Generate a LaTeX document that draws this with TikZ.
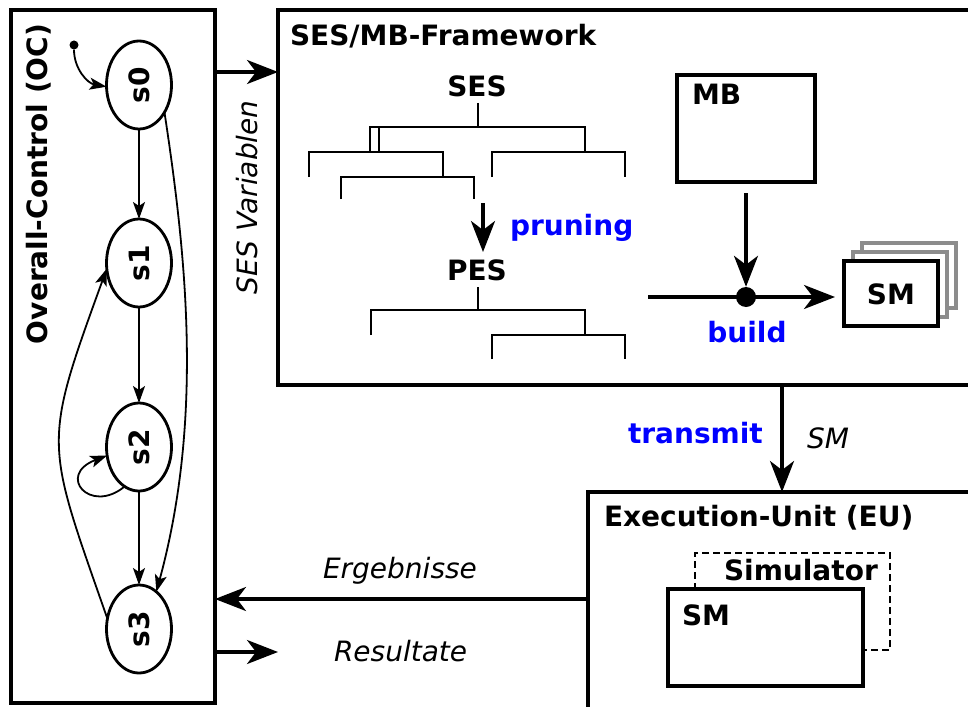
\documentclass[tikz,border=0pt]{standalone}
\usepackage{fontspec}
\setmainfont{DejaVu Sans}
\usepackage{graphicx}
\usetikzlibrary{arrows.meta,shapes.geometric,calc}
\begin{document}
\begin{tikzpicture}[x=1pt,y=-1pt,
  lbl/.style={font=\fontsize{28pt}{33pt}\selectfont\bfseries, inner sep=0pt, outer sep=0pt},
  ital/.style={font=\fontsize{28pt}{33pt}\selectfont\itshape, inner sep=0pt, outer sep=0pt},
  bluelbl/.style={lbl, text=blue},
  box/.style={draw, line width=3.3pt, outer sep=0pt, inner sep=0pt, fill=white},
  graybox/.style={box, draw=black!45},
  dashbox/.style={draw, line width=2.8pt, dash pattern=on 7pt off 4pt, outer sep=0pt, inner sep=0pt},
  state/.style={draw, ellipse, line width=2.8pt, minimum width=65pt, minimum height=88pt, inner sep=0pt, outer sep=0pt, font=\fontsize{28pt}{33pt}\selectfont\bfseries},
  tr/.style={line width=1.8pt, -{Stealth[length=17pt,width=12pt,inset=4pt]}},
  big/.style={line width=3.3pt, -{Stealth[length=31pt,width=24pt,inset=9pt]}},
  thick3/.style={line width=3.3pt},
  tree/.style={line width=2.3pt},
]
\clip (0,0) rectangle (968,706);
\fill[white] (0,0) rectangle (968,706);

% main boxes
\node[box, anchor=north west, minimum width=204pt, minimum height=693pt] (oc) at (11,10) {};
\node[box, anchor=north west, minimum width=740pt, minimum height=375pt] (ses) at (278,10) {};
\node[box, anchor=north west, minimum width=420pt, minimum height=260pt] (eu) at (588,492) {};

% titles
\node[lbl, rotate=90, anchor=base west] (octitle) at (47,344) {Overall-Control (OC)};
\node[lbl, anchor=base west] (sestitle) at (290,46) {SES/MB-Framework};
\node[lbl, anchor=base west] (eutitle) at (604,526) {Execution-Unit (EU)};

% states
\node[state] (s0) at (139,85) {\rotatebox{90}{s0}};
\node[state] (s1) at (139,263) {\rotatebox{90}{s1}};
\node[state] (s2) at (139,447) {\rotatebox{90}{s2}};
\node[state] (s3) at (139,629) {\rotatebox{90}{s3}};
\node[circle, fill, inner sep=0pt, minimum size=9pt] (init) at (74,45) {};

\draw[tr] (init) to[out=-90,in=170] (s0.183);
\draw[tr] (s0) -- (s1);
\draw[tr] (s1) -- (s2);
\draw[tr] (s2) -- (s3);
\draw[tr] (s0.-47) .. controls (187,260) and (203,420) .. (s3.65);
\draw[tr] (s3.162) .. controls (45,440) and (42,447) .. (s1.190);
\draw[tr] (s2.-110) .. controls (90,515) and (56,475) .. (s2.195);

% SES tree
\node[lbl, anchor=base] (sesT) at (477,97) {SES};
\draw[tree] (478,103) -- (478,127);
\draw[tree] (370,152) -- (370,127) -- (585,127) -- (585,152);
\draw[tree] (379,127) -- (379,152);
\draw[tree] (309,177) -- (309,152) -- (443,152) -- (443,177);
\draw[tree] (341,199) -- (341,177) -- (474,177) -- (474,199);
\draw[tree] (492,177) -- (492,152) -- (625,152) -- (625,177);

% pruning
\coordinate (pa) at (483,203);
\coordinate (pb) at (483,252);
\draw[big] (pa) -- (pb);
\node[bluelbl, anchor=base west] (prun) at (510,235) {pruning};

% PES tree
\node[lbl, anchor=base] (pesT) at (477,280) {PES};
\draw[tree] (478,287) -- (478,310);
\draw[tree] (371,335) -- (371,310) -- (585,310) -- (585,335);
\draw[tree] (492,359) -- (492,335) -- (625,335) -- (625,359);

% MB and build
\node[box, anchor=north west, minimum width=138pt, minimum height=107pt] (mb) at (677,75) {};
\node[lbl, anchor=base west] (mbT) at (692,105) {MB};
\node[circle, fill, inner sep=0pt, minimum size=20pt] (dot) at (746,297) {};
\draw[big] ([yshift=-11pt]mb.south) -- (dot.north);
\coordinate (bs) at (648,297);
\coordinate (smtip) at (835,297);
\draw[thick3] (bs) -- (dot.center);
\draw[big] (dot.center) -- (smtip);
\node[bluelbl, anchor=base] (build) at (747,342) {build};

% SM stack
\node[graybox, anchor=north west, minimum width=94pt, minimum height=65pt] (sm3) at (862,243) {};
\node[graybox, anchor=north west, minimum width=94pt, minimum height=65pt] (sm2) at (853,252) {};
\node[box, anchor=north west, minimum width=94pt, minimum height=65pt] (sm1) at (844,261) {};
\node[lbl, anchor=base] (smT) at (891,304) {SM};

% transmit
\coordinate (tx) at (782,0);
\draw[big] (ses.south -| tx) -- (eu.north -| tx);
\node[bluelbl, anchor=base west] (trans) at (628,443) {transmit};
\node[ital, anchor=base west] (smit) at (807,448) {SM};

% EU inner
\node[dashbox, anchor=north west, minimum width=195pt, minimum height=97pt] (sim) at (695,553) {};
\node[lbl, anchor=base west] (simT) at (724,580) {Simulator};
\node[box, anchor=north west, minimum width=195pt, minimum height=97pt] (smeu) at (668,589) {};
\node[lbl, anchor=base west] (smeuT) at (682,625) {SM};

% SES Variablen
\node[ital, rotate=90, anchor=base west] (sesvar) at (257,294) {SES Variablen};

% OC connections
\coordinate (y72) at (0,72);
\coordinate (y599) at (0,599);
\coordinate (y652) at (0,652);
\coordinate (resend) at (278,652);
\draw[big] (oc.east |- y72) -- (ses.west |- y72);
\draw[big] (eu.west |- y599) -- (oc.east |- y599);
\draw[big] (oc.east |- y652) -- (resend);
\node[ital, anchor=base west] (erg) at (323,578) {Ergebnisse};
\node[ital, anchor=base west] (res) at (334,661) {Resultate};
\end{tikzpicture}
\end{document}
